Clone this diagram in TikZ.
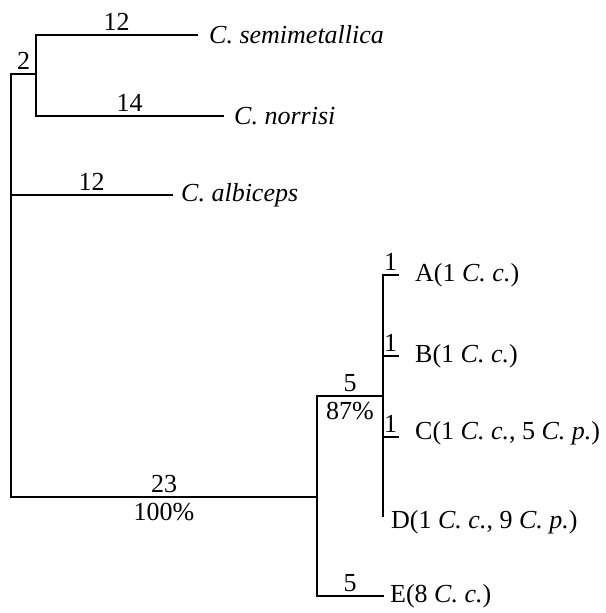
\documentclass[tikz,border=0pt]{standalone}
\usepackage{fontspec}
\setmainfont{Liberation Serif}
\usetikzlibrary{positioning}
\tikzset{
branch/.style={line width=1.2pt, line cap=rect},
blen/.style={midway, anchor=south, inner sep=4pt},
boot/.style={midway, anchor=north, inner sep=6pt},
taxon/.style={inner sep=0pt}
}

\begin{document}
\begin{tikzpicture}[x=1pt, y=-1pt, font=\fontsize{26}{30}\selectfont]
\useasboundingbox (0,0) rectangle (605,613);
\coordinate (rtop) at (11,74);
\coordinate (rbot) at (11,497);
\coordinate (ralb) at (11,195);
\coordinate (n2) at (36,74);
\coordinate (n2t) at (36,35);
\coordinate (n2b) at (36,116);
\coordinate (semi) at (197,35);
\coordinate (norr) at (223,116);
\coordinate (albi) at (172,195);
\coordinate (nAE) at (317,497);
\coordinate (nAD) at (317,396);
\coordinate (nE) at (317,596);
\coordinate (nADr) at (383,396);
\coordinate (vA) at (383,275);
\coordinate (vB) at (383,356);
\coordinate (vC) at (383,437);
\coordinate (vD) at (383,516);
\coordinate (tipA) at (398,275);
\coordinate (tipB) at (398,356);
\coordinate (tipC) at (398,437);
\coordinate (tipE) at (383,596);

\draw[branch] (semi) -- node[blen] (l12s) {12} (n2t) -- (n2b) -- node[blen] (l14) {14} (norr);
\draw[branch] (n2) -- node[blen] (l2) {2} (rtop) -- (rbot) -- node[blen] (l23) {23} node[boot] (b100) {100\%} (nAE);
\draw[branch] (ralb) -- node[blen] (l12a) {12} (albi);
\draw[branch] (nADr) -- node[blen] (l5) {5} node[boot] (b87) {87\%} (nAD) -- (nE) -- node[blen] (l5e) {5} (tipE);
\draw[branch] (tipA) -- node[blen] (l1a) {1} (vA) -- (vD);
\draw[branch] (vB) -- node[blen] (l1b) {1} (tipB);
\draw[branch] (vC) -- node[blen] (l1c) {1} (tipC);

\node[taxon, right=12pt of semi] (tsemi) {\textit{C. semimetallica}};
\node[taxon, right=11pt of norr] (tnorr) {\textit{C. norrisi}};
\node[taxon, right=9pt of albi] (talbi) {\textit{C. albiceps}};
\node[taxon, right=17pt of tipA] (tA) {A(1 \textit{C. c.})};
\node[taxon, right=17pt of tipB] (tB) {B(1 \textit{C. c.})};
\node[taxon, right=17pt of tipC, yshift=4pt] (tC) {C(1 \textit{C. c.}, 5 \textit{C. p.})};
\node[taxon, right=8pt of vD, yshift=-6pt] (tD) {D(1 \textit{C. c.}, 9 \textit{C. p.})};
\node[taxon, right=7pt of tipE] (tE) {E(8 \textit{C. c.})};
\end{tikzpicture}
\end{document}
